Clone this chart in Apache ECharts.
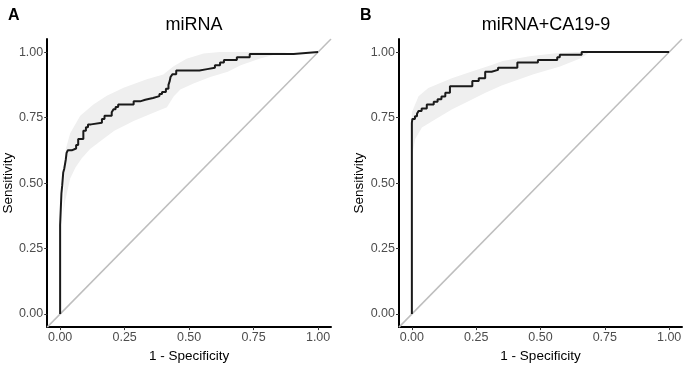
<!DOCTYPE html>
<html>
<head>
<meta charset="utf-8">
<script src="https://cdn.jsdelivr.net/npm/echarts@6/dist/echarts.min.js"></script>
<style>html,body{margin:0;padding:0;background:#fff}#c{width:693px;height:368px}</style>
</head>
<body>
<div id="c"></div>
<script>
// ---- data ----
const panelLetters = ['A', 'B'];
const panelTitles = ['miRNA', 'miRNA+CA19-9'];
const xAxisTitle = '1 - Specificity';
const yAxisTitle = 'Sensitivity';
const tickValues = [0, 0.25, 0.5, 0.75, 1.0];
const refLine = [-0.05, 1.05];

// ROC curve A: [1-specificity, sensitivity] (corners of steps)
const rocA = [
  [0,0],[0,0.30],[0.005,0.34],[0.008,0.46],[0.012,0.49],[0.016,0.54],[0.022,0.555],
  [0.025,0.59],[0.03,0.615],[0.045,0.625],[0.062,0.632],[0.07,0.645],[0.09,0.668],
  [0.1,0.70],[0.108,0.713],[0.12,0.724],[0.162,0.73],[0.172,0.745],[0.2,0.757],
  [0.207,0.77],[0.215,0.782],[0.225,0.79],[0.285,0.80],[0.31,0.812],[0.33,0.818],
  [0.36,0.825],[0.385,0.832],[0.395,0.84],[0.41,0.848],[0.42,0.86],[0.425,0.875],
  [0.428,0.89],[0.435,0.905],[0.45,0.915],[0.54,0.93],[0.57,0.935],[0.6,0.94],
  [0.62,0.95],[0.635,0.96],[0.685,0.97],[0.735,0.98],[0.905,0.993],[1.0,1.0]
];
const bandAUpper = [
  [0.004,0.30],[0.013,0.39],[0.017,0.54],[0.022,0.63],[0.039,0.69],[0.078,0.757],
  [0.129,0.80],[0.181,0.833],[0.246,0.864],[0.336,0.896],[0.40,0.914],[0.44,0.946],
  [0.49,0.975],[0.556,0.995],[0.62,1.0],[0.75,1.0],[0.88,0.998]
];
const bandALower = [
  [0.004,0.30],[0.012,0.377],[0.019,0.43],[0.039,0.517],[0.06,0.56],[0.084,0.595],
  [0.116,0.63],[0.167,0.668],[0.21,0.70],[0.285,0.737],[0.35,0.764],[0.414,0.789],
  [0.44,0.83],[0.466,0.857],[0.517,0.88],[0.582,0.905],[0.65,0.925],[0.70,0.95],
  [0.775,0.976],[0.83,0.99],[0.88,0.998]
];

// ROC curve B
const rocB = [
  [0,0],[0,0.655],[0.002,0.73],[0.012,0.745],[0.02,0.755],[0.026,0.765],[0.038,0.775],
  [0.058,0.785],[0.085,0.80],[0.1,0.81],[0.115,0.82],[0.13,0.83],[0.148,0.845],
  [0.235,0.87],[0.26,0.89],[0.285,0.90],[0.31,0.925],[0.335,0.932],[0.41,0.94],
  [0.49,0.96],[0.565,0.97],[0.575,0.98],[0.66,0.99],[1.0,1.0]
];
const bandBUpper = [
  [0,0.60],[0,0.77],[0.026,0.831],[0.064,0.863],[0.155,0.90],[0.233,0.926],
  [0.31,0.951],[0.353,0.966],[0.457,0.984],[0.56,0.996],[0.64,1.0],[0.69,0.998]
];
const bandBLower = [
  [0,0.60],[0.013,0.668],[0.039,0.712],[0.09,0.743],[0.155,0.781],[0.22,0.812],
  [0.284,0.844],[0.349,0.872],[0.473,0.915],[0.576,0.945],[0.654,0.976],[0.69,0.998]
];

// ---- chart ----
const chart = echarts.init(document.getElementById('c'), null, {renderer: 'canvas'});
const FONT = 'Liberation Sans, Arial, sans-serif';

function bandSeries(upper, lower, idx) {
  const poly = upper.concat(lower.slice().reverse());
  return {
    type: 'custom', xAxisIndex: idx, yAxisIndex: idx, z: 1, silent: true,
    data: poly,
    renderItem: function (params, api) {
      if (params.dataIndex !== 0) return null;
      return {
        type: 'polygon',
        shape: {points: poly.map(p => api.coord(p))},
        style: {fill: '#EFEFEF', stroke: null}
      };
    }
  };
}

function xAxisCfg(idx) {
  return {
    gridIndex: idx, type: 'value', min: -0.05, max: 1.05,
    name: xAxisTitle, nameLocation: 'middle', nameGap: 19,
    nameTextStyle: {color: '#000', fontSize: 13.5, fontFamily: FONT},
    axisLine: {show: true, onZero: false, lineStyle: {color: '#000', width: 2}},
    axisTick: {show: true, length: 3, customValues: tickValues, lineStyle: {color: '#333', width: 1}},
    axisLabel: {customValues: tickValues, margin: 4, color: '#4D4D4D', fontSize: 12.5, fontFamily: FONT,
      formatter: v => v.toFixed(2)},
    splitLine: {show: false}
  };
}
function yAxisCfg(idx) {
  return {
    gridIndex: idx, type: 'value', min: -0.05, max: 1.05,
    name: yAxisTitle, nameLocation: 'middle', nameGap: 32, nameRotate: 90,
    nameTextStyle: {color: '#000', fontSize: 13.5, fontFamily: FONT},
    axisLine: {show: true, onZero: false, lineStyle: {color: '#000', width: 2}},
    axisTick: {show: true, length: 3, customValues: tickValues, lineStyle: {color: '#333', width: 1}},
    axisLabel: {customValues: tickValues, margin: 4, color: '#4D4D4D', fontSize: 12.5, fontFamily: FONT,
      formatter: v => v.toFixed(2)},
    splitLine: {show: false}
  };
}
function rocSeries(data, idx) {
  return {
    type: 'line', xAxisIndex: idx, yAxisIndex: idx, data: data, step: 'start',
    symbol: 'none', z: 3, silent: true,
    lineStyle: {color: '#1A1A1A', width: 2}
  };
}
function diagSeries(idx) {
  return {
    type: 'line', xAxisIndex: idx, yAxisIndex: idx, data: refLine.map(v => [v, v]),
    symbol: 'none', z: 2, silent: true,
    lineStyle: {color: '#BEBEBE', width: 1.5}
  };
}

chart.setOption({
  animation: false,
  backgroundColor: '#fff',
  title: [
    {text: panelLetters[0], left: 3, top: 3, textStyle: {fontSize: 16, fontWeight: 'bold', color: '#000', fontFamily: FONT}},
    {text: panelTitles[0], left: 189, top: 11, textAlign: 'center', textStyle: {fontSize: 18, fontWeight: 'normal', color: '#000', fontFamily: FONT}},
    {text: panelLetters[1], left: 355, top: 3, textStyle: {fontSize: 16, fontWeight: 'bold', color: '#000', fontFamily: FONT}},
    {text: panelTitles[1], left: 541, top: 11, textAlign: 'center', textStyle: {fontSize: 18, fontWeight: 'normal', color: '#000', fontFamily: FONT}}
  ],
  grid: [
    {left: 47, top: 39, width: 284, height: 292, containLabel: false},
    {left: 399, top: 39, width: 283, height: 292, containLabel: false}
  ],
  xAxis: [xAxisCfg(0), xAxisCfg(1)],
  yAxis: [yAxisCfg(0), yAxisCfg(1)],
  series: [
    bandSeries(bandAUpper, bandALower, 0),
    diagSeries(0),
    rocSeries(rocA, 0),
    bandSeries(bandBUpper, bandBLower, 1),
    diagSeries(1),
    rocSeries(rocB, 1)
  ]
});
</script>
</body>
</html>
